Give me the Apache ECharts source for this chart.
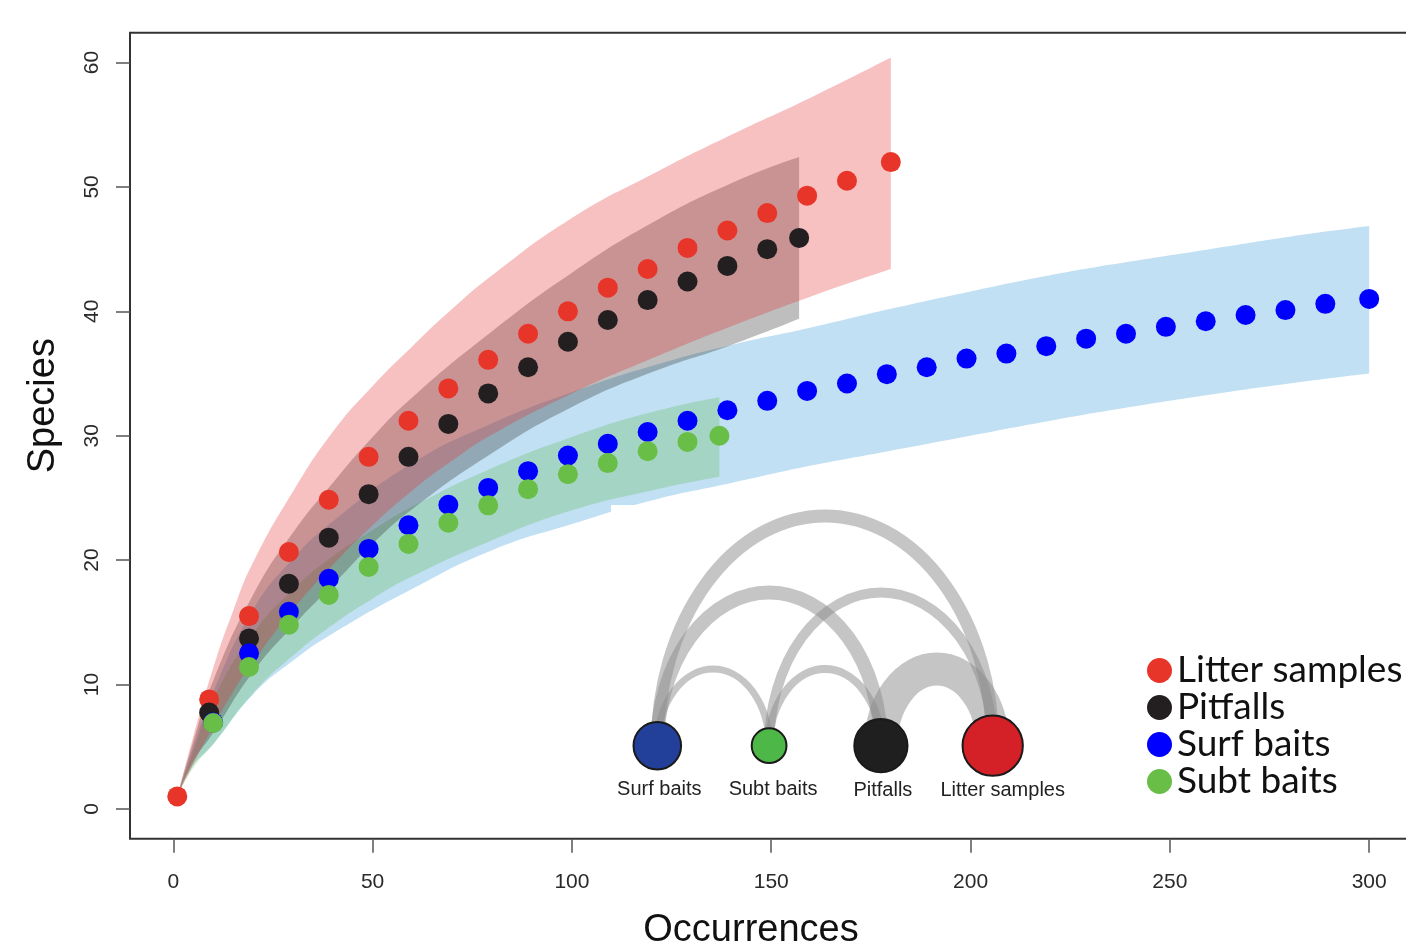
<!DOCTYPE html>
<html>
<head>
<meta charset="utf-8">
<script src="https://cdn.jsdelivr.net/npm/echarts@6/dist/echarts.min.js"></script>
<style>
html,body{margin:0;padding:0;background:#fff;}
#chart{width:1406px;height:947px;}
</style>
</head>
<body>
<div id="chart"></div>
<script>
// ---------- DATA ----------
const seriesNames = ['Litter samples', 'Pitfalls', 'Surf baits', 'Subt baits'];

const litterX = [1, 9, 19, 29, 39, 49, 59, 69, 79, 89, 99, 109, 119, 129, 139, 149, 159, 169, 180];
const litterY = [1.0, 8.8, 15.5, 20.65, 24.85, 28.3, 31.2, 33.8, 36.1, 38.2, 40.0, 41.9, 43.4, 45.1, 46.5, 47.9, 49.3, 50.5, 52.0];

const pitfallsX = [9, 19, 29, 39, 49, 59, 69, 79, 89, 99, 109, 119, 129, 139, 149, 157];
const pitfallsY = [7.75, 13.7, 18.1, 21.8, 25.3, 28.3, 30.95, 33.4, 35.5, 37.55, 39.3, 40.9, 42.4, 43.65, 45.0, 45.9];

const surfX = [10, 19, 29, 39, 49, 59, 69, 79, 89, 99, 109, 119, 129, 139, 149, 159, 169, 179, 189, 199, 209, 219, 229, 239, 249, 259, 269, 279, 289, 300];
const surfY = [6.95, 12.5, 15.85, 18.5, 20.9, 22.8, 24.45, 25.8, 27.15, 28.4, 29.35, 30.3, 31.2, 32.05, 32.8, 33.6, 34.2, 34.95, 35.5, 36.2, 36.6, 37.2, 37.8, 38.2, 38.75, 39.2, 39.7, 40.1, 40.6, 41.0];

const subtX = [10, 19, 29, 39, 49, 59, 69, 79, 89, 99, 109, 119, 129, 137];
const subtY = [6.9, 11.4, 14.8, 17.2, 19.45, 21.3, 23.0, 24.4, 25.7, 26.9, 27.8, 28.75, 29.5, 30.0];

// confidence bands
const litterBandX = [1, 5, 10, 15, 20, 30, 40, 50, 60, 70, 80, 100, 120, 140, 160, 180];
const litterLower = [1, 3.6, 6.6, 9.4, 11.8, 16.0, 19.6, 22.8, 25.6, 28.0, 30.1, 33.4, 36.2, 38.8, 41.2, 43.4];
const litterUpper = [1, 5.8, 11.3, 15.9, 19.8, 25.5, 30.3, 34.0, 37.2, 40.2, 42.9, 47.5, 51.0, 54.2, 57.2, 60.4];

const pitfallsBandX = [1, 5, 10, 20, 30, 40, 50, 60, 80, 100, 120, 140, 157];
const pitfallsLower = [1, 3.8, 6.1, 11.0, 14.7, 18.0, 21.3, 24.1, 28.6, 32.3, 35.1, 37.3, 39.4];
const pitfallsUpper = [1, 5.4, 10.3, 17.2, 22.2, 26.2, 29.9, 33.1, 38.4, 43.1, 47.1, 50.3, 52.4];

const surfBandX = [1, 5, 10, 20, 30, 40, 60, 80, 100, 120, 140, 160, 180, 200, 220, 240, 260, 280, 300];
const surfLower = [1, 3.5, 5.2, 9.2, 11.9, 14.1, 17.7, 20.8, 22.9, 24.8, 26.2, 27.6, 28.8, 30.0, 31.2, 32.3, 33.3, 34.2, 35.0];
const surfUpper = [1, 5.0, 9.4, 16.0, 20.1, 23.1, 27.8, 31.0, 33.5, 35.6, 37.3, 38.7, 40.2, 41.6, 42.9, 44.0, 45.0, 46.0, 46.85];

const subtBandX = [1, 5, 10, 20, 30, 40, 50, 60, 80, 100, 120, 137];
const subtLower = [1, 3.3, 5.2, 9.3, 12.3, 14.8, 16.9, 18.7, 21.6, 24.0, 25.6, 26.7];
const subtUpper = [1, 4.6, 8.8, 14.1, 17.6, 20.3, 22.4, 24.3, 27.4, 29.9, 31.9, 33.1];

const xTicks = [0, 50, 100, 150, 200, 250, 300];
const yTicks = [0, 10, 20, 30, 40, 50, 60];

// inset network
const insetNodes = ['Surf baits', 'Subt baits', 'Pitfalls', 'Litter samples'];
const insetRichness = [surfY[surfY.length - 1], subtY[subtY.length - 1], pitfallsY[pitfallsY.length - 1], litterY[litterY.length - 1]];
const insetLinks = [
  ['Surf baits', 'Litter samples', 13],
  ['Surf baits', 'Pitfalls', 14],
  ['Subt baits', 'Litter samples', 10],
  ['Surf baits', 'Subt baits', 7],
  ['Subt baits', 'Pitfalls', 8],
  ['Pitfalls', 'Litter samples', 33]
];

// ---------- STYLE ----------
const pointColors = { 'Litter samples': '#E8352A', 'Pitfalls': '#231F20', 'Surf baits': '#0000FF', 'Subt baits': '#68BE46' };
const bandColors = {
  'Surf baits': 'rgba(51,153,214,0.3)',
  'Subt baits': 'rgba(100,190,90,0.3)',
  'Pitfalls': 'rgba(40,40,40,0.3)',
  'Litter samples': 'rgba(230,50,50,0.3)'
};
const nodeColors = ['#22409A', '#4DB848', '#1F1F1F', '#D42027'];
const nodeLabelOffsets = [[2, 44], [4, 44], [2, 45], [10, 45]];
const axisFont = 'Liberation Sans, Arial, sans-serif';

function zip(xs, ys) { return xs.map((x, i) => [x, ys[i]]); }

// band rows are [value, occurrences] so that the stacked dimension is the y value
function bandSeries(name, xs, lo, hi) {
  return [
    {
      name: name + ' CI low', type: 'line', stack: 'band-' + name,
      data: xs.map((x, i) => [lo[i], x]), encode: { x: 1, y: 0 },
      symbol: 'none', smooth: 0.5, silent: true,
      lineStyle: { opacity: 0, width: 0 }, z: 1
    },
    {
      name: name + ' CI', type: 'line', stack: 'band-' + name,
      data: xs.map((x, i) => [hi[i] - lo[i], x]), encode: { x: 1, y: 0 },
      symbol: 'none', smooth: 0.5, silent: true,
      lineStyle: { opacity: 0, width: 0 },
      areaStyle: { color: bandColors[name], opacity: 1 }, z: 1
    }
  ];
}

function pointSeries(name, xs, ys) {
  return {
    name: name, type: 'scatter', data: zip(xs, ys), symbolSize: 20, silent: true,
    itemStyle: { color: pointColors[name], opacity: 1 }, z: 3
  };
}

const series = [].concat(
  bandSeries('Surf baits', surfBandX, surfLower, surfUpper),
  bandSeries('Subt baits', subtBandX, subtLower, subtUpper),
  bandSeries('Pitfalls', pitfallsBandX, pitfallsLower, pitfallsUpper),
  bandSeries('Litter samples', litterBandX, litterLower, litterUpper),
  [
    pointSeries('Litter samples', litterX, litterY),
    pointSeries('Pitfalls', pitfallsX, pitfallsY),
    pointSeries('Surf baits', surfX, surfY),
    pointSeries('Subt baits', subtX, subtY)
  ]
);

// inset arcs
series.push({
  name: 'inset links', type: 'custom', coordinateSystem: 'cartesian2d',
  xAxisIndex: 1, yAxisIndex: 1, clip: false, silent: true, z: 4,
  data: insetLinks.map(l => [insetNodes.indexOf(l[0]), insetNodes.indexOf(l[1]), l[2]]),
  renderItem: function (params, api) {
    const a = api.coord([api.value(0), 0]);
    const b = api.coord([api.value(1), 0]);
    const rx = Math.abs(b[0] - a[0]) / 2;
    const ry = rx * 1.37;
    return {
      type: 'path',
      shape: { pathData: 'M' + a[0] + ' ' + a[1] + ' A' + rx + ' ' + ry + ' 0 0 1 ' + b[0] + ' ' + b[1] },
      style: { fill: 'none', stroke: 'rgba(140,140,140,0.5)', lineWidth: api.value(2) }
    };
  }
});

// inset nodes
series.push({
  name: 'inset nodes', type: 'scatter', xAxisIndex: 1, yAxisIndex: 1, silent: true, z: 5,
  data: insetNodes.map((n, i) => ({
    value: [i, 0],
    symbolSize: insetRichness[i] * 1.16,
    itemStyle: { color: nodeColors[i] },
    label: { offset: nodeLabelOffsets[i] }
  })),
  itemStyle: { borderColor: '#1a1a1a', borderWidth: 2, opacity: 1 },
  label: {
    show: true, position: 'inside',
    formatter: p => insetNodes[p.dataIndex],
    fontSize: 20, color: '#222', fontFamily: axisFont, textBorderWidth: 0
  }
});

const option = {
  animation: false,
  backgroundColor: '#ffffff',
  grid: [
    { left: 130, top: 32.7, width: 1287, height: 806, show: true, borderColor: '#333', borderWidth: 2, backgroundColor: 'transparent', containLabel: false, outerBoundsMode: 'none' },
    { left: 601.4, top: 645.7, width: 447.2, height: 200, show: false, outerBoundsMode: 'none' }
  ],
  xAxis: [
    {
      type: 'value', gridIndex: 0, min: -10.86, max: 312,
      axisLine: { show: false, onZero: false }, splitLine: { show: false },
      axisTick: { show: true, length: 14, customValues: xTicks, lineStyle: { color: '#555', width: 1.5 } },
      axisLabel: { customValues: xTicks, margin: 33, fontSize: 21, color: '#2a2a2a', fontFamily: axisFont },
      name: 'Occurrences', nameLocation: 'middle', nameGap: 73,
      nameTextStyle: { fontSize: 38, color: '#111', fontFamily: axisFont, padding: [0, 45, 0, 0] }
    },
    { type: 'category', gridIndex: 1, data: insetNodes, show: false }
  ],
  yAxis: [
    {
      type: 'value', gridIndex: 0, min: -2.4, max: 62.4,
      axisLine: { show: false, onZero: false }, splitLine: { show: false },
      axisTick: { show: true, length: 14, customValues: yTicks, lineStyle: { color: '#555', width: 1.5 } },
      axisLabel: { customValues: yTicks, rotate: 90, margin: 27, fontSize: 21, color: '#2a2a2a', fontFamily: axisFont },
      name: 'Species', nameLocation: 'middle', nameGap: 67, nameRotate: 90,
      nameTextStyle: { fontSize: 38, color: '#111', fontFamily: axisFont, padding: [0, 0, 0, 60] }
    },
    { type: 'value', gridIndex: 1, min: -1, max: 1, show: false }
  ],
  legend: {
    data: seriesNames, orient: 'vertical', left: 1147, top: 652,
    itemWidth: 25, itemHeight: 25, itemGap: 0, padding: 0, icon: 'circle', selectedMode: false,
    textStyle: { fontFamily: 'Lato', fontSize: 37, color: '#111', lineHeight: 35.5 }
  },
  graphic: {
    elements: [
      { type: 'rect', left: 611, top: 505, z: 2, silent: true, shape: { width: 470, height: 310 }, style: { fill: '#ffffff' } }
    ]
  },
  series: series
};

const chart = echarts.init(document.getElementById('chart'));
chart.setOption(option);
</script>
</body>
</html>
